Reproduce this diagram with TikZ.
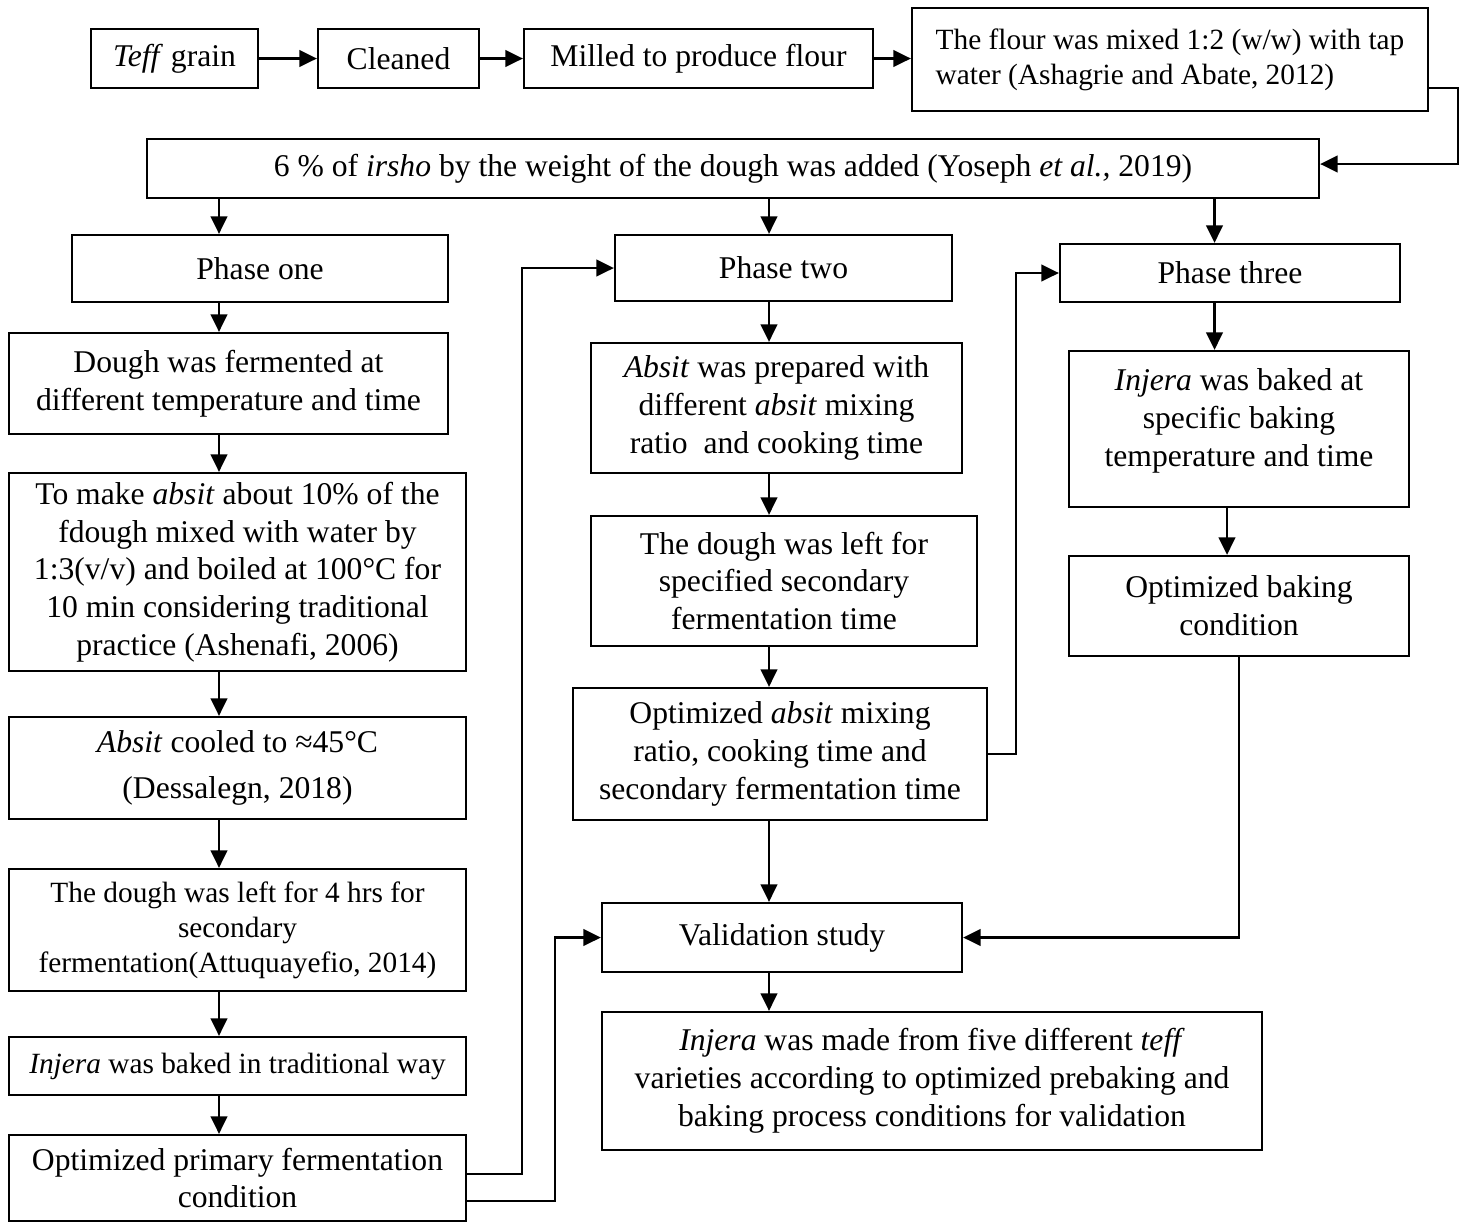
\documentclass[tikz,border=0pt]{standalone}
\usepackage{fontspec}
\setmainfont{Liberation Serif}
\usepackage{tikz}
\usetikzlibrary{positioning,arrows.meta,calc}

\newcommand{\bigtxt}{\fontsize{18}{21.5}\selectfont}
\newcommand{\smalltxt}{\fontsize{16.7}{20}\selectfont}

\begin{document}
\begin{tikzpicture}[>={Triangle[length=10pt,width=9.5pt]},
    every node/.style={font=\bigtxt, align=center},
    box/.style={draw, line width=1.3pt, inner sep=2pt},
    link/.style={->, line width=1.3pt}]
  \useasboundingbox (0,0) rectangle (29.3,-24.44);

  % top row
  \node[box, minimum width=3.34cm, minimum height=1.18cm] (teff)
      at (3.49,-1.17) {\textit{Teff} grain};
  \node[box, minimum width=3.22cm, minimum height=1.18cm] (clean)
      at (7.97,-1.17) {Cleaned};
  \node[box, minimum width=6.98cm, minimum height=1.18cm] (mill)
      at (13.97,-1.17) {Milled to produce flour};
  \node[box, minimum width=10.32cm, minimum height=2.06cm, align=left, font=\smalltxt] (flour)
      at (23.40,-1.19) {The flour was mixed 1:2 (w/w) with tap\\water (Ashagrie and Abate, 2012)};
  \node[box, minimum width=23.44cm, minimum height=1.18cm] (irsho)
      at (14.66,-3.37) {6 \% of \textit{irsho} by the weight of the dough was added (Yoseph \textit{et al.,} 2019)};

  % phases
  \node[box, minimum width=7.52cm, minimum height=1.34cm] (ph1)
      at (5.20,-5.37) {Phase one};
  \node[box, minimum width=6.74cm, minimum height=1.32cm] (ph2)
      at (15.67,-5.36) {Phase two};
  \node[box, minimum width=6.80cm, minimum height=1.16cm] (ph3)
      at (24.60,-5.46) {Phase three};

  % phase one column
  \node[box, minimum width=8.78cm, minimum height=2.02cm] (ferm)
      at (4.57,-7.67) {Dough was fermented at\\different temperature and time};
  \node[box, minimum width=9.14cm, minimum height=3.96cm] (absmk)
      at (4.75,-11.44) {To make \textit{absit} about 10\% of the\\fdough mixed with water by\\1:3(v/v) and boiled at 100°C for\\10 min considering traditional\\practice (Ashenafi, 2006)};
  \node[box, minimum width=9.14cm, minimum height=2.04cm] (cool)
      at (4.75,-15.36) {\textit{Absit} cooled to ≈45°C\\[5pt](Dessalegn, 2018)};
  \node[box, minimum width=9.14cm, minimum height=2.44cm, font=\smalltxt] (ldough)
      at (4.75,-18.60) {The dough was left for 4 hrs for\\secondary\\fermentation(Attuquayefio, 2014)};
  \node[box, minimum width=9.14cm, minimum height=1.16cm, font=\smalltxt] (trad)
      at (4.75,-21.32) {\textit{Injera} was baked in traditional way};
  \node[box, minimum width=9.14cm, minimum height=1.72cm] (optp)
      at (4.75,-23.56) {Optimized primary fermentation\\condition};

  % phase two column
  \node[box, minimum width=7.42cm, minimum height=2.60cm] (absprep)
      at (15.53,-8.16) {\textit{Absit} was prepared with\\different \textit{absit} mixing\\ratio~ and cooking time};
  \node[box, minimum width=7.72cm, minimum height=2.60cm] (sec)
      at (15.68,-11.62) {The dough was left for\\specified secondary\\fermentation time};
  \node[box, minimum width=8.28cm, minimum height=2.64cm] (opta)
      at (15.60,-15.08) {Optimized \textit{absit} mixing\\ratio, cooking time and\\secondary fermentation time};
  \node[box, minimum width=7.20cm, minimum height=1.38cm] (valid)
      at (15.64,-18.75) {Validation study};
  \node[box, minimum width=13.20cm, minimum height=2.76cm] (five)
      at (18.64,-21.62) {\textit{Injera} was made from five different \textit{teff}\\varieties according to optimized prebaking and\\baking process conditions for validation};

  % phase three column
  \node[box, minimum width=6.80cm, minimum height=3.12cm, text depth=0.45cm] (bake)
      at (24.78,-8.58) {\textit{Injera} was baked at\\specific baking\\temperature and time};
  \node[box, minimum width=6.80cm, minimum height=2.00cm] (optb)
      at (24.78,-12.12) {Optimized baking\\condition};

  % bends and columns
  \coordinate (colA) at (4.38,0);
  \coordinate (colB) at (15.38,0);
  \coordinate (colC) at (24.29,0);
  \coordinate (colD) at (24.54,0);
  \coordinate (k1) at (10.44,-23.48);
  \coordinate (k2) at (11.10,-24.02);
  \coordinate (k3) at (20.32,0);
  \coordinate (k4) at (29.16,-1.76);
  \coordinate (k5) at (29.16,-3.28);

  \draw[link] (teff) -- (clean);
  \draw[link] (clean) -- (mill);
  \draw[link] (mill.east) -- (mill.east -| flour.west);
  \draw[link] (flour.east |- k4) -- (k4) -- (k5) -- (irsho.east |- k5);

  \draw[link] (irsho.south -| colA) -- (ph1.north -| colA);
  \draw[link] (irsho.south -| colB) -- (ph2.north -| colB);
  \draw[link] (irsho.south -| colC) -- (ph3.north -| colC);

  \draw[link] (ph1.south -| colA) -- (ferm.north -| colA);
  \draw[link] (ferm.south -| colA) -- (absmk.north -| colA);
  \draw[link] (absmk.south -| colA) -- (cool.north -| colA);
  \draw[link] (cool.south -| colA) -- (ldough.north -| colA);
  \draw[link] (ldough.south -| colA) -- (trad.north -| colA);
  \draw[link] (trad.south -| colA) -- (optp.north -| colA);

  \draw[link] (ph2.south -| colB) -- (absprep.north -| colB);
  \draw[link] (absprep.south -| colB) -- (sec.north -| colB);
  \draw[link] (sec.south -| colB) -- (opta.north -| colB);
  \draw[link] (opta.south -| colB) -- (valid.north -| colB);
  \draw[link] (valid.south -| colB) -- (five.north -| colB);

  \draw[link] (ph3.south -| colC) -- (bake.north -| colC);
  \draw[link] (bake.south -| colD) -- (optb.north -| colD);

  % feedback lines
  \draw[link] (optp.east |- k1) -- (k1) |- (ph2.west);
  \draw[link] (optp.east |- k2) -- (k2) |- (valid.west);
  \draw[link] (opta.east) -- (opta.east -| k3) |- (ph3.west);
  \draw[link] (optb.south) |- (valid.east);
\end{tikzpicture}
\end{document}
